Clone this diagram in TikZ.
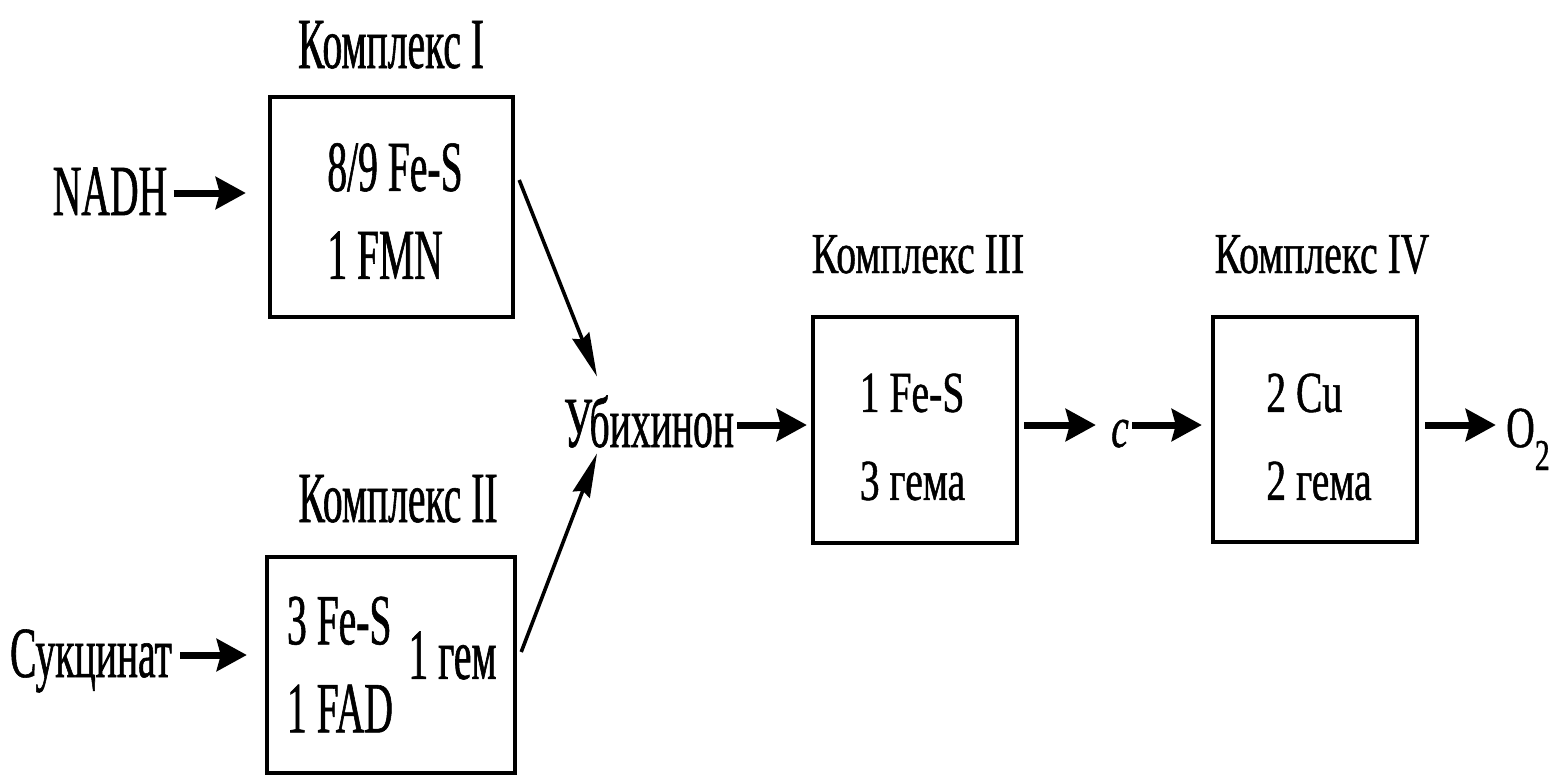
\documentclass[tikz,border=0pt]{standalone}
\usepackage{fontspec}
\setmainfont[FakeStretch=0.55, FakeBold=0.8]{Liberation Serif}
\newfontfamily\narrowfam[FakeStretch=0.683, FakeBold=0.8]{Liberation Serif}
\usetikzlibrary{arrows.meta}

\newcommand{\bigtxt}{\fontsize{36}{44}\selectfont}
\newcommand{\smalltxt}{\narrowfam\fontsize{29}{44}\selectfont}

\begin{document}
\begin{tikzpicture}[x=0.5pt, y=-0.5pt, font=\bigtxt,
  box/.style={draw, line width=2.2pt, inner sep=0pt},
  term/.style={inner sep=0pt, text height=22pt, text depth=0pt},
  txt/.style={inner sep=0pt, align=left},
  flow/.style={line width=3.5pt, -{Stealth[length=15pt, width=16pt, inset=2pt]}},
  feed/.style={line width=1.8pt, -{Stealth[length=22pt, width=9pt, inset=2pt]}}]
\useasboundingbox (0,0) rectangle (1556,776);

% complexes
\node[box, minimum width=121.5pt, minimum height=110pt] (c1) at (391.5,207) {};
\node[box, minimum width=124pt, minimum height=108pt] (c2) at (391,665) {};
\node[box, minimum width=102pt, minimum height=113pt] (c3) at (915,430) {};
\node[box, minimum width=102pt, minimum height=112.5pt] (c4) at (1315,429.5) {};

\node[anchor=base, inner sep=0pt] (l1) at (391,68) {Комплекс I};
\node[anchor=base, inner sep=0pt] (l2) at (398,522) {Комплекс II};
\node[anchor=base, inner sep=0pt, font=\smalltxt] (l3) at (918,273) {Комплекс III};
\node[anchor=base, inner sep=0pt, font=\smalltxt] (l4) at (1322,273) {Комплекс IV};

% what sits in each complex
\node[txt] (c1a) at (395,211) {8/9 Fe-S\\1 FMN};
\node[txt] (c2a) at (340,664.5) {3 Fe-S\\1 FAD};
\node[txt] (c2b) at (452.5,655.5) {1 гем};
\node[txt, font=\smalltxt] (c3a) at (912.5,437) {1 Fe-S\\3 гема};
\node[txt, font=\smalltxt] (c4a) at (1319,437) {2 Cu\\2 гема};

% carriers
\node[term] (nadh) at (110,193) {NADH};
\node[term] (suc) at (91,655) {Сукцинат};
\node[term] (ubi) at (649,425) {Убихинон};
\node[term, font=\smalltxt\itshape] (cyt) at (1120,425) {c};
\node[term, font=\smalltxt] (o2) at (1528,425) {O\raisebox{-11.5pt}{\fontsize{22}{22}\selectfont 2}};

\draw[flow, shorten <=3pt, shorten >=11pt] (nadh) -- (nadh -| c1.west);
\draw[flow, shorten <=4pt, shorten >=9pt] (suc) -- (suc -| c2.west);
\draw[feed] ([shift={(2pt,13.5pt)}]c1.east) -- ([shift={(-26pt,13pt)}]ubi.north);
\draw[feed] ([shift={(2pt,6.5pt)}]c2.east) -- ([shift={(-26pt,-3pt)}]ubi.south);
\draw[flow, shorten <=1.5pt, shorten >=2pt] (ubi) -- (ubi -| c3.west);
\draw[flow, shorten <=2.5pt, shorten >=7.5pt] (c3.east |- cyt) -- (cyt);
\draw[flow, shorten <=1.5pt, shorten >=4.5pt] (cyt) -- (cyt -| c4.west);
\draw[flow, shorten <=3pt, shorten >=5pt] (c4.east |- o2) -- (o2);
\end{tikzpicture}
\end{document}
